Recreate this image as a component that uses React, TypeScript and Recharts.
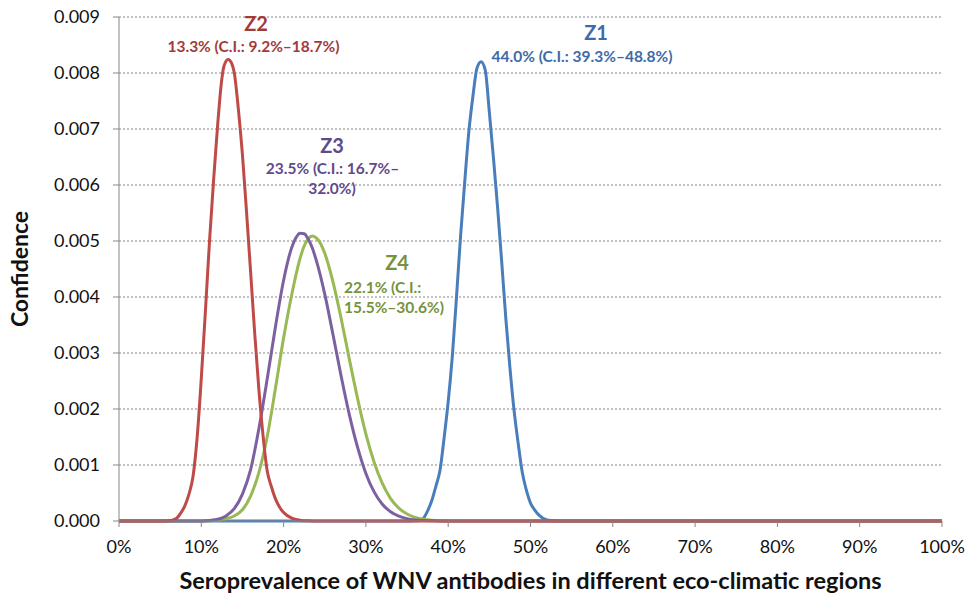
import { LineChart, Line, XAxis, YAxis, CartesianGrid, ReferenceDot } from 'recharts';

// Z1 (blue) – eco-climatic region 1
const z1 = [
  { x: 0, y: 0 }, { x: 10, y: 0 }, { x: 35, y: 0 }, { x: 36, y: 0.000003 }, { x: 36.5, y: 0.00001 },
  { x: 37, y: 0.00005 }, { x: 37.5, y: 0.00018 }, { x: 38, y: 0.00036 }, { x: 38.5, y: 0.00062 },
  { x: 39, y: 0.0009 }, { x: 39.5, y: 0.00148 }, { x: 40, y: 0.00213 }, { x: 40.5, y: 0.00294 },
  { x: 41, y: 0.00398 }, { x: 41.5, y: 0.00508 }, { x: 42, y: 0.00604 }, { x: 42.5, y: 0.00694 },
  { x: 43, y: 0.00758 }, { x: 43.5, y: 0.00809 }, { x: 44, y: 0.0082 }, { x: 44.5, y: 0.00805 },
  { x: 45, y: 0.0073 }, { x: 45.5, y: 0.00648 }, { x: 46, y: 0.0056 }, { x: 46.5, y: 0.00463 },
  { x: 47, y: 0.00362 }, { x: 47.5, y: 0.00274 }, { x: 48, y: 0.00198 }, { x: 48.5, y: 0.00139 },
  { x: 49, y: 0.00087 }, { x: 49.5, y: 0.00055 }, { x: 50, y: 0.00032 }, { x: 50.5, y: 0.0002 },
  { x: 51, y: 0.00011 }, { x: 52, y: 0.00002 }, { x: 53, y: 0.000003 }, { x: 54, y: 0 }, { x: 100, y: 0 },
];

// Z2 (red)
const z2 = [
  { x: 0, y: 0 }, { x: 5, y: 0 }, { x: 6, y: 0.000003 }, { x: 7, y: 0.00005 }, { x: 7.5, y: 0.00014 },
  { x: 8, y: 0.00027 }, { x: 8.5, y: 0.00048 }, { x: 9, y: 0.0008 }, { x: 9.5, y: 0.0015 },
  { x: 10, y: 0.00255 }, { x: 10.5, y: 0.00375 }, { x: 11, y: 0.005 }, { x: 11.5, y: 0.0061 },
  { x: 12, y: 0.0071 }, { x: 12.5, y: 0.0079 }, { x: 12.75, y: 0.00812 }, { x: 13.25, y: 0.00824 },
  { x: 13.75, y: 0.00815 }, { x: 14, y: 0.00801 }, { x: 14.5, y: 0.00736 }, { x: 15, y: 0.00654 },
  { x: 15.5, y: 0.00551 }, { x: 16, y: 0.00443 }, { x: 16.5, y: 0.00333 }, { x: 17, y: 0.00234 },
  { x: 17.5, y: 0.00153 }, { x: 18, y: 0.0009 }, { x: 18.5, y: 0.00062 }, { x: 19, y: 0.0004 },
  { x: 19.5, y: 0.00025 }, { x: 20, y: 0.00015 }, { x: 21, y: 0.00005 }, { x: 22, y: 0.000015 },
  { x: 23, y: 0.000003 }, { x: 24, y: 0 }, { x: 100, y: 0 },
];

// Z3 (purple)
const z3 = [
  { x: 0, y: 0 }, { x: 9, y: 0 }, { x: 10, y: 0.000002 }, { x: 11, y: 0.00001 }, { x: 12, y: 0.00003 },
  { x: 13, y: 0.00009 }, { x: 14, y: 0.00022 }, { x: 15, y: 0.00048 }, { x: 16, y: 0.00092 },
  { x: 17, y: 0.00165 }, { x: 18, y: 0.00253 }, { x: 19, y: 0.00346 }, { x: 20, y: 0.0043 },
  { x: 21, y: 0.00489 }, { x: 21.5, y: 0.00506 }, { x: 22, y: 0.00514 }, { x: 22.5, y: 0.00513 },
  { x: 23, y: 0.00503 }, { x: 23.5, y: 0.00487 }, { x: 24, y: 0.00464 }, { x: 25, y: 0.00405 },
  { x: 26, y: 0.00333 }, { x: 27, y: 0.00258 }, { x: 28, y: 0.00189 }, { x: 29, y: 0.00131 },
  { x: 30, y: 0.00085 }, { x: 31, y: 0.00052 }, { x: 32, y: 0.0003 }, { x: 33, y: 0.000166 },
  { x: 34, y: 0.000086 }, { x: 35, y: 0.000042 }, { x: 36, y: 0.000019 }, { x: 37, y: 0.000008 },
  { x: 38, y: 0.000003 }, { x: 39, y: 0 }, { x: 100, y: 0 },
];

// Z4 (green)
const z4 = [
  { x: 0, y: 0 }, { x: 10, y: 0 }, { x: 11, y: 0.000004 }, { x: 12, y: 0.000013 }, { x: 13, y: 0.00004 },
  { x: 14, y: 0.00009 }, { x: 15, y: 0.0002 }, { x: 16, y: 0.00045 }, { x: 17, y: 0.00087 },
  { x: 18, y: 0.0015 }, { x: 19, y: 0.00236 }, { x: 20, y: 0.00327 }, { x: 21, y: 0.00405 },
  { x: 22, y: 0.00469 }, { x: 22.5, y: 0.00491 }, { x: 23, y: 0.00504 }, { x: 23.5, y: 0.00509 },
  { x: 24, y: 0.00505 }, { x: 24.5, y: 0.00495 }, { x: 25, y: 0.00478 }, { x: 26, y: 0.00427 },
  { x: 27, y: 0.00361 }, { x: 28, y: 0.00288 }, { x: 29, y: 0.00218 }, { x: 30, y: 0.00155 },
  { x: 31, y: 0.00105 }, { x: 32, y: 0.00067 }, { x: 33, y: 0.0004 }, { x: 34, y: 0.00023 },
  { x: 35, y: 0.000124 }, { x: 36, y: 0.000063 }, { x: 37, y: 0.00003 }, { x: 38, y: 0.000014 },
  { x: 39, y: 0.000006 }, { x: 40, y: 0.000002 }, { x: 41, y: 0 }, { x: 100, y: 0 },
];

const xTicks = [0, 10, 20, 30, 40, 50, 60, 70, 80, 90, 100];
const yTicks = [0, 0.001, 0.002, 0.003, 0.004, 0.005, 0.006, 0.007, 0.008, 0.009];

// annotation text, anchored in data units
const notes = [
  { x: 57.96, y: 0.00873, text: 'Z1', color: '#3E6AA8', big: true, anchor: 'middle' },
  { x: 56.26, y: 0.0083, text: '44.0% (C.I.: 39.3%–48.8%)', color: '#3E6AA8', big: false, anchor: 'middle' },
  { x: 16.65, y: 0.0089, text: 'Z2', color: '#A33A3A', big: true, anchor: 'middle' },
  { x: 16.34, y: 0.00848, text: '13.3% (C.I.: 9.2%–18.7%)', color: '#A33A3A', big: false, anchor: 'middle' },
  { x: 25.88, y: 0.00671, text: 'Z3', color: '#5F4A8B', big: true, anchor: 'middle' },
  { x: 25.94, y: 0.00631, text: '23.5% (C.I.: 16.7%–', color: '#5F4A8B', big: false, anchor: 'middle' },
  { x: 25.88, y: 0.00594, text: '32.0%)', color: '#5F4A8B', big: false, anchor: 'middle' },
  { x: 33.78, y: 0.00462, text: 'Z4', color: '#76923C', big: true, anchor: 'middle' },
  { x: 27.34, y: 0.00418, text: '22.1% (C.I.:', color: '#76923C', big: false, anchor: 'start' },
  { x: 27.34, y: 0.00382, text: '15.5%–30.6%)', color: '#76923C', big: false, anchor: 'start' },
];

const FONT = 'Lato, "Open Sans", sans-serif';
const AXIS = '#868686';

function noteLabel(n: (typeof notes)[number]) {
  return (props: any) => {
    const vb = props.viewBox || {};
    const cx = (vb.x ?? 0) + (vb.width ?? 0) / 2;
    const cy = (vb.y ?? 0) + (vb.height ?? 0) / 2;
    return (
      <text
        x={cx}
        y={cy}
        textAnchor={n.anchor}
        dominantBaseline="central"
        fill={n.color}
        fontFamily={FONT}
        fontWeight={700}
        fontSize={n.big ? 20 : 15.5}
      >
        {n.text}
      </text>
    );
  };
}

export default function App() {
  return (
    <div style={{ position: 'absolute', left: 0, top: 0, width: 970, height: 606, background: '#fff' }}>
      <LineChart width={970} height={606} margin={{ top: 17, right: 28, bottom: 55, left: 0 }}>
        <CartesianGrid vertical={false} stroke={AXIS} strokeDasharray="2 2" />
        <XAxis
          type="number"
          dataKey="x"
          domain={[0, 100]}
          ticks={xTicks}
          tickFormatter={(v) => `${v}%`}
          height={30}
          stroke={AXIS}
          tickSize={6}
          tickMargin={13}
          tick={{ fill: '#111', fontSize: 18, fontFamily: FONT }}
          label={{
            content: (p: any) => {
              const vb = p.viewBox || {};
              return (
                <text
                  x={vb.x + vb.width / 2}
                  y={vb.y + 59}
                  textAnchor="middle"
                  dominantBaseline="central"
                  fontFamily={FONT}
                  fontWeight={700}
                  fontSize={23.5}
                  fill="#111"
                >
                  Seroprevalence of WNV antibodies in different eco-climatic regions
                </text>
              );
            },
          }}
        />
        <YAxis
          type="number"
          domain={[0, 0.009]}
          ticks={yTicks}
          tickFormatter={(v) => v.toFixed(3)}
          width={119}
          stroke={AXIS}
          tickSize={6}
          tickMargin={13}
          tick={{ fill: '#111', fontSize: 18, fontFamily: FONT }}
          label={{
            content: (p: any) => {
              const vb = p.viewBox || {};
              const cy = vb.y + vb.height / 2;
              return (
                <text
                  x={19}
                  y={cy}
                  transform={`rotate(-90, 19, ${cy})`}
                  textAnchor="middle"
                  dominantBaseline="central"
                  fontFamily={FONT}
                  fontWeight={700}
                  fontSize={23}
                  fill="#111"
                >
                  Confidence
                </text>
              );
            },
          }}
        />
        <Line data={z1} dataKey="y" type="monotone" stroke="#4A7EBB" strokeWidth={3} dot={false} isAnimationActive={false} />
        <Line data={z4} dataKey="y" type="monotone" stroke="#98B954" strokeWidth={3} dot={false} isAnimationActive={false} />
        <Line data={z3} dataKey="y" type="monotone" stroke="#7D60A0" strokeWidth={3} dot={false} isAnimationActive={false} />
        <Line data={z2} dataKey="y" type="monotone" stroke="#BE4B48" strokeWidth={3} dot={false} isAnimationActive={false} />
        {notes.map((n, i) => (
          <ReferenceDot key={i} x={n.x} y={n.y} r={0} stroke="none" fill="none" label={noteLabel(n)} />
        ))}
      </LineChart>
    </div>
  );
}
